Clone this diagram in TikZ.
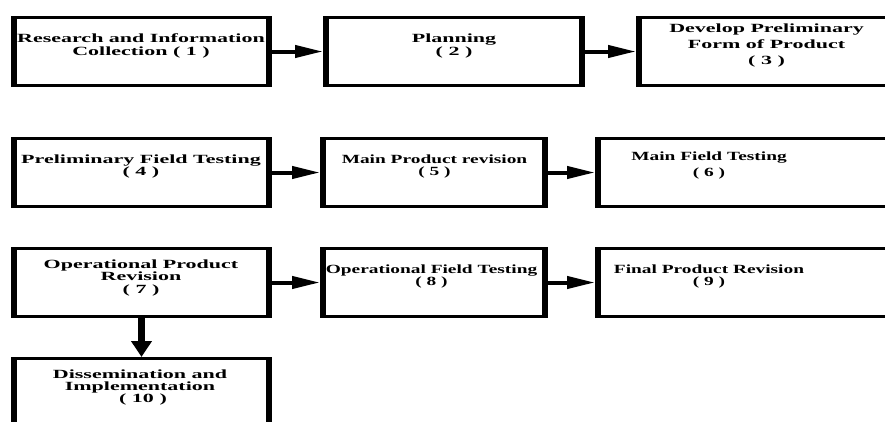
\documentclass[tikz,border=0pt]{standalone}
\usepackage{fontspec}
\newfontfamily\fA{Liberation Serif}[FakeStretch=1.76]
\newfontfamily\fB{Liberation Serif}[FakeStretch=1.55]
\usetikzlibrary{arrows.meta}
\begin{document}
\begin{tikzpicture}[x=1pt,y=-1pt,
  stepbox/.style={draw, line width=3pt, inner sep=0pt, outer xsep=3pt, outer ysep=1.5pt},
  vside/.style={line width=6pt},
  txtA/.style={inner sep=0pt, anchor=base, font=\fA\bfseries\fontsize{12.5}{12.3}\selectfont},
  txtB/.style={inner sep=0pt, anchor=base, font=\fB\bfseries\fontsize{12.5}{12.3}\selectfont},
  harrow/.style={line width=4pt, -{Triangle[length=28pt,width=12pt]}},
  varrow/.style={line width=6.5pt, -{Triangle[length=16pt,width=20pt]}}]
\useasboundingbox (0,0) rectangle (885,421);
\clip (0,0) rectangle (885,421);
% boxes
\node[stepbox, minimum width=255pt, minimum height=68pt] (b1) at (141.5,51.5) {};
\node[stepbox, minimum width=256pt, minimum height=68pt] (b2) at (454,51.5) {};
\node[stepbox, minimum width=255pt, minimum height=68pt] (b3) at (766.5,51.5) {};
\node[stepbox, minimum width=255pt, minimum height=68pt] (b4) at (141.5,172.5) {};
\node[stepbox, minimum width=222pt, minimum height=68pt] (b5) at (434,172.5) {};
\node[stepbox, minimum width=299pt, minimum height=68pt] (b6) at (747.5,172.5) {};
\node[stepbox, minimum width=255pt, minimum height=68pt] (b7) at (141.5,282.5) {};
\node[stepbox, minimum width=222pt, minimum height=68pt] (b8) at (434,282.5) {};
\node[stepbox, minimum width=299pt, minimum height=68pt] (b9) at (747.5,282.5) {};
\node[stepbox, minimum width=255pt, minimum height=80pt] (b10) at (141.5,398.5) {};
\foreach \n in {b1,b2,b3,b4,b5,b6,b7,b8,b9,b10}
  \draw[vside] ([xshift=3pt]\n.north west) -- ([xshift=3pt]\n.south west)
               ([xshift=-3pt]\n.north east) -- ([xshift=-3pt]\n.south east);
% texts
\node[txtA] (t1) at (141,42.7) {\begin{tabular}[t]{@{}c@{}}Research and Information\\Collection ( 1 )\end{tabular}};
\node[txtA] (t2) at (454,42.7) {\begin{tabular}[t]{@{}c@{}}Planning\\( 2 )\end{tabular}};
\node[txtA] (t3) at (766.5,32) {\begin{tabular}[t]{@{}c@{}}Develop Preliminary\\[3.7pt]Form of Product\\[3.7pt]( 3 )\end{tabular}};
\node[txtA] (t4) at (141,163) {\begin{tabular}[t]{@{}c@{}}Preliminary Field Testing\\( 4 )\end{tabular}};
\node[txtB] (t5) at (434.5,163.5) {\begin{tabular}[t]{@{}c@{}}Main Product revision\\( 5 )\end{tabular}};
\node[txtB] (t6) at (709,160) {\begin{tabular}[t]{@{}c@{}}Main Field Testing\\[4.5pt]( 6 )\end{tabular}};
\node[txtA] (t7) at (141,268.5) {\begin{tabular}[t]{@{}c@{}}Operational Product\\Revision\\( 7 )\end{tabular}};
\node[txtB] (t8) at (431.5,273.5) {\begin{tabular}[t]{@{}c@{}}Operational Field Testing\\( 8 )\end{tabular}};
\node[txtB] (t9) at (709,273.5) {\begin{tabular}[t]{@{}c@{}}Final Product Revision\\( 9 )\end{tabular}};
\node[txtA] (t10) at (140,378) {\begin{tabular}[t]{@{}c@{}}Dissemination and\\Implementation\hspace{9.4pt}\\\hspace{6pt}( 10 )\end{tabular}};
% arrows
\draw[harrow] (b1.east) -- (b2.west);
\draw[harrow] (b2.east) -- (b3.west);
\draw[harrow] (b4.east) -- (b5.west);
\draw[harrow] (b5.east) -- (b6.west);
\draw[harrow] (b7.east) -- (b8.west);
\draw[harrow] (b8.east) -- (b9.west);
\draw[varrow] (b7.south) -- (b10.north);
\end{tikzpicture}
\end{document}
